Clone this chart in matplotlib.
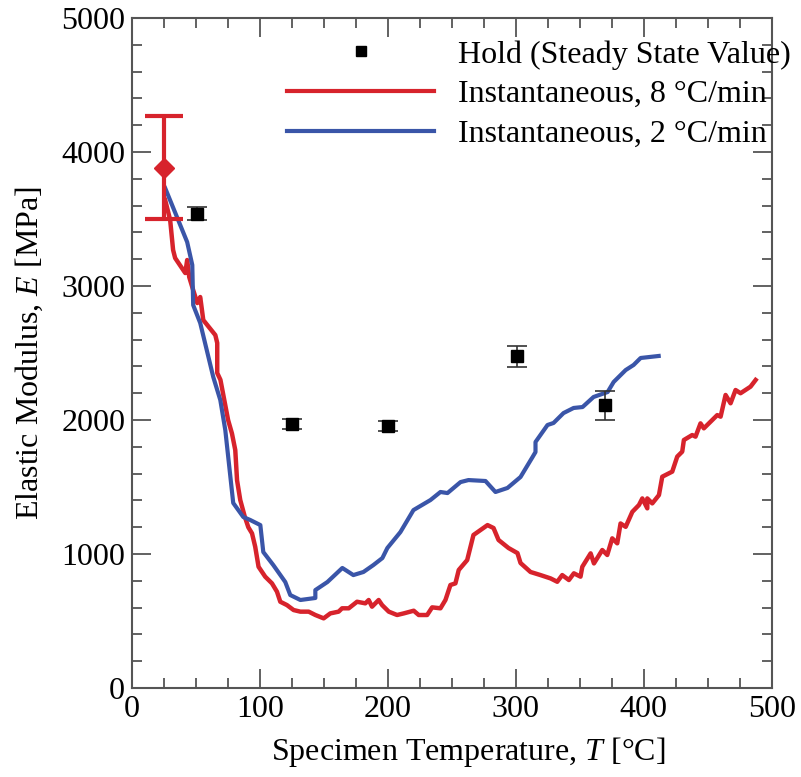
import matplotlib
matplotlib.use("Agg")
import matplotlib.pyplot as plt
from matplotlib.lines import Line2D
from matplotlib.ticker import MultipleLocator

plt.rcParams["font.family"] = ["Liberation Serif", "DejaVu Serif"]
plt.rcParams["mathtext.fontset"] = "custom"
plt.rcParams["mathtext.it"] = "Liberation Serif:italic"
plt.rcParams["mathtext.rm"] = "Liberation Serif"

# 8 C/min instantaneous
t_fast = [25.8, 29.7, 32, 33.6, 41.5, 43, 44.6, 47.7, 50.9, 53.2, 55.6, 65, 66.5,
          66.5, 69, 72, 75, 78, 80.6, 82, 84.5, 88, 90.8, 93.7, 96.2, 98.8, 104,
          109.3, 113.2, 115.8, 121, 126.2, 131.5, 138, 143.2, 149.7, 154.9, 161.4,
          164.1, 169.3, 175.8, 182.3, 184.9, 187.5, 192.7, 195.4, 200.6, 207.1,
          212.3, 220.1, 224, 230.6, 234.5, 241, 244.9, 248.8, 252.7, 255.3, 261.9,
          266.8, 277.8, 282.5, 286.4, 294.2, 301.2, 303.6, 311.4, 319.2, 327.1,
          332.3, 336.2, 341.4, 345.3, 350.5, 351.9, 358.4, 361, 367.5, 371.4,
          375.3, 379.2, 381.8, 385.8, 391, 396.2, 398.8, 402.7, 402.7, 406.6,
          411.8, 414.4, 422.2, 426.1, 430, 431.3, 437.8, 440.4, 444.3, 446.9,
          457.4, 460, 463.9, 467.8, 471.7, 475.6, 483.4, 487.4]
e_fast = [3642, 3493, 3269, 3209, 3097, 3194, 3067, 2970, 2873, 2918, 2746, 2634,
          2575, 2351, 2300, 2150, 2000, 1900, 1776, 1550, 1403, 1280, 1200, 1154,
          1054, 905, 831, 781, 719, 644, 619, 582, 570, 570, 545, 520, 557, 570,
          595, 595, 644, 632, 657, 607, 657, 619, 570, 545, 557, 577, 545, 545,
          602, 595, 657, 769, 781, 881, 955, 1142, 1216, 1194, 1105, 1045, 1007,
          933, 866, 843, 818, 793, 843, 806, 856, 831, 905, 1005, 930, 1030, 993,
          1117, 1080, 1228, 1203, 1315, 1366, 1415, 1341, 1415, 1378, 1440, 1577,
          1615, 1727, 1764, 1851, 1888, 1876, 1975, 1938, 2037, 2025, 2187, 2125,
          2224, 2200, 2249, 2299]

# 2 C/min instantaneous
t_slow = [25.8, 43, 47, 47.7, 53.2, 63.4, 68.9, 72.8, 79, 86.9, 92.3, 100.2,
          102.5, 110.3, 119.7, 123.6, 131.5, 143.2, 143.2, 152.6, 164.3, 172.9,
          180.8, 188.6, 195.6, 199.5, 209.7, 219.9, 233.2, 241, 246.5, 256.7,
          262.9, 276.2, 284, 293.4, 303.6, 313, 315.3, 315.3, 324.7, 329.4,
          337.2, 345.1, 352.1, 360.7, 371.7, 376.4, 385.8, 392, 397.5, 411.6]
e_slow = [3731, 3328, 3157, 2858, 2724, 2321, 2149, 1925, 1381, 1276, 1254, 1216,
          1015, 918, 791, 694, 657, 672, 731, 791, 896, 843, 866, 918, 970, 1045,
          1164, 1328, 1403, 1463, 1455, 1537, 1552, 1545, 1463, 1493, 1575, 1724,
          1761, 1836, 1963, 1978, 2052, 2090, 2097, 2172, 2209, 2284, 2373, 2411,
          2463, 2478]

# hold (steady state) points
t_hold = [50.9, 125.2, 200.3, 300.5, 370]
e_hold = [3535, 1970, 1955, 2475, 2110]
err_lo = [45, 40, 35, 80, 110]
err_hi = [55, 40, 35, 80, 110]

# room temperature reference
t_rt = [25]
e_rt = [3880]
rt_lo = [380]
rt_hi = [390]

red = "#d7232c"
blue = "#3a55a8"
gray = "#555555"

fig = plt.figure(figsize=(8.01, 7.77), dpi=100)
ax = fig.add_axes([0.165, 0.1145, 0.7985, 0.8623])

ax.plot(t_fast, e_fast, color=red, lw=3.2, zorder=3)
ax.plot(t_slow, e_slow, color=blue, lw=3, zorder=3)
ax.errorbar(t_hold, e_hold, yerr=[err_lo, err_hi], fmt="s", color="black",
            ms=9, ecolor="#333333", elinewidth=1.2, capsize=7, capthick=1.2,
            zorder=4)
ax.errorbar(t_rt, e_rt, yerr=[rt_lo, rt_hi], fmt="D", color=red, ms=10,
            elinewidth=3, capsize=14, capthick=3, zorder=5)

ax.set_xlim(0, 500)
ax.set_ylim(0, 5000)
ax.xaxis.set_major_locator(MultipleLocator(100))
ax.xaxis.set_minor_locator(MultipleLocator(25))
ax.yaxis.set_major_locator(MultipleLocator(1000))
ax.yaxis.set_minor_locator(MultipleLocator(200))
ax.tick_params(which="both", direction="in", top=True, right=True,
               colors=gray, labelcolor="black", labelsize=23, width=1.3)
ax.tick_params(which="major", length=14, pad=5)
ax.tick_params(which="minor", length=7)
for s in ax.spines.values():
    s.set_color(gray)
    s.set_linewidth(1.5)

ax.set_xlabel("Specimen Temperature, $T$ [\u00b0C]", fontsize=23, labelpad=8)
ax.xaxis.label.set_x(0.526)
ax.set_ylabel("Elastic Modulus, $E$ [MPa]", fontsize=23, labelpad=12)

handles = [
    Line2D([], [], ls="none", marker="s", ms=7, color="black"),
    Line2D([], [], color=red, lw=3),
    Line2D([], [], color=blue, lw=3),
]
labels = ["Hold (Steady State Value)", "Instantaneous, 8 \u00b0C/min",
          "Instantaneous, 2 \u00b0C/min"]
ax.legend(handles, labels, loc="upper right", bbox_to_anchor=(1.03, 0.967),
          frameon=False, fontsize=23, handlelength=4.6, borderpad=0,
          borderaxespad=0, labelspacing=0.32, handletextpad=0.75)

fig.savefig("out.png", dpi=100)
